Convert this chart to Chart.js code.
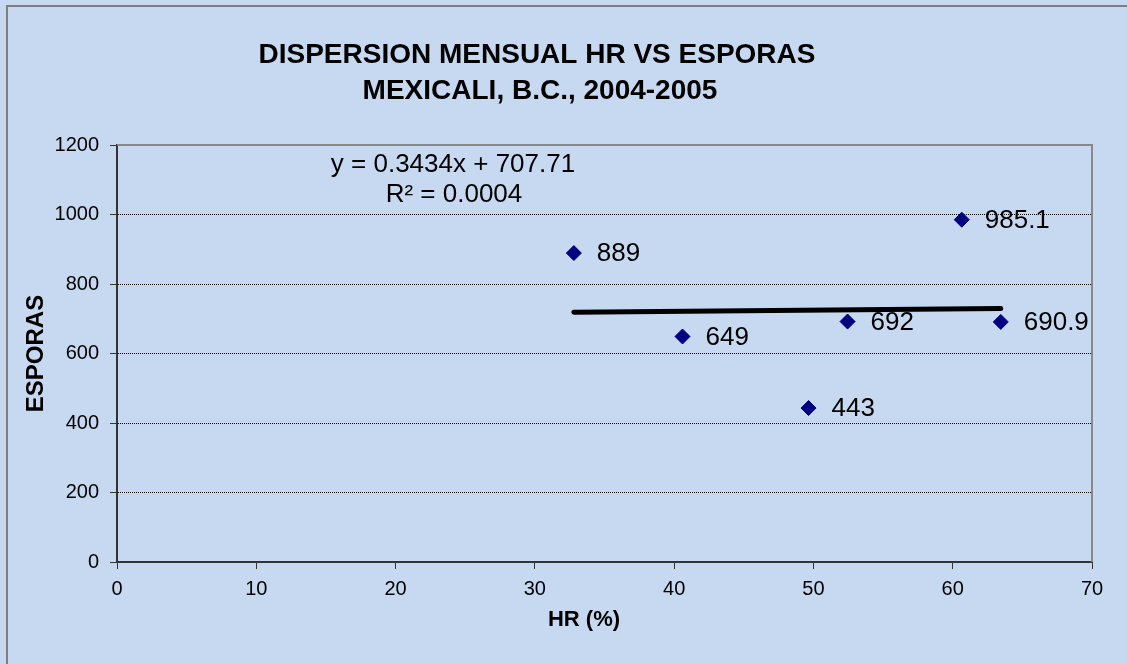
<!DOCTYPE html>
<html>
<head>
<meta charset="utf-8">
<title>Dispersion mensual HR vs Esporas</title>
<script src="https://cdn.jsdelivr.net/npm/chart.js@4"></script>
<style>
  html, body { margin: 0; padding: 0; background: #c6d9f1; }
  #chartBox { width: 1127px; height: 664px; }
</style>
</head>
<body>
<div id="chartBox"><canvas id="hrChart" width="1127" height="664"></canvas></div>
<script>
// monthly points: HR (%) vs esporas
const hrValues = [32.8, 40.6, 49.65, 52.45, 60.65, 63.45];
const esporasValues = [889, 649, 443, 692, 985.1, 690.9];
const pointLabels = ["889", "649", "443", "692", "985.1", "690.9"];

// linear trendline as drawn by Excel (ends at the data range)
const trendX = [32.8, 63.45];
const trendY = [719.0, 729.5];
const trendText = ["y = 0.3434x + 707.71", "R\u00b2 = 0.0004"];

const titleLines = ["DISPERSION MENSUAL HR VS ESPORAS", "MEXICALI, B.C., 2004-2005"];
const xTitle = "HR (%)";
const yTitle = "ESPORAS";

const bgColor = "#c6d9f1";
const fontFamily = 'Arial, "Liberation Sans", sans-serif';

Chart.defaults.font.family = fontFamily;
Chart.defaults.color = "#000";

// background, outer frame and plot border
const framePlugin = {
  id: "frame",
  beforeDraw(chart) {
    const ctx = chart.ctx;
    ctx.save();
    ctx.fillStyle = bgColor;
    ctx.fillRect(0, 0, chart.width, chart.height);
    ctx.strokeStyle = "#7f7f7f";
    ctx.lineWidth = 2;
    ctx.beginPath();
    ctx.moveTo(7, chart.height);
    ctx.lineTo(7, 6);
    ctx.lineTo(chart.width, 6);
    ctx.stroke();
    ctx.restore();
  },
  beforeDatasetsDraw(chart) {
    const { ctx, chartArea } = chart;
    ctx.save();
    ctx.strokeStyle = "#888";
    ctx.lineWidth = 2;
    ctx.beginPath();
    ctx.moveTo(chartArea.left, chartArea.top);
    ctx.lineTo(chartArea.right, chartArea.top);
    ctx.lineTo(chartArea.right, chartArea.bottom);
    ctx.stroke();
    ctx.restore();
  }
};

// title, equation, x title and point labels
const textPlugin = {
  id: "texts",
  afterDatasetsDraw(chart) {
    const ctx = chart.ctx;
    ctx.save();
    ctx.fillStyle = "#000";
    ctx.textBaseline = "middle";

    ctx.textAlign = "center";
    ctx.font = "bold 28px " + fontFamily;
    ctx.fillText(titleLines[0], 537, 55);
    ctx.fillText(titleLines[1], 540, 91);

    ctx.font = "26px " + fontFamily;
    ctx.fillText(trendText[0], 453, 165);
    ctx.fillText(trendText[1], 454, 195);

    ctx.font = "bold 22px " + fontFamily;
    ctx.fillText(xTitle, 584, 620);

    ctx.textAlign = "left";
    ctx.font = "26px " + fontFamily;
    const meta = chart.getDatasetMeta(0);
    meta.data.forEach((pt, i) => {
      ctx.fillText(pointLabels[i], pt.x + 23, pt.y + 1);
    });
    ctx.restore();
  }
};

const ctx = document.getElementById("hrChart").getContext("2d");

new Chart(ctx, {
  type: "scatter",
  data: {
    datasets: [
      {
        label: "Esporas",
        data: hrValues.map((x, i) => ({ x: x, y: esporasValues[i] })),
        pointStyle: "rectRot",
        pointRadius: 7.5,
        pointHoverRadius: 7.5,
        backgroundColor: "#000080",
        borderColor: "#000080",
        borderWidth: 1,
        order: 1
      },
      {
        label: "Lineal",
        type: "line",
        data: trendX.map((x, i) => ({ x: x, y: trendY[i] })),
        borderColor: "#000",
        borderWidth: 5,
        borderCapStyle: "round",
        pointRadius: 0,
        fill: false,
        order: 2
      }
    ]
  },
  options: {
    responsive: false,
    animation: false,
    devicePixelRatio: 1,
    layout: { padding: { top: 145, left: 0, right: 35, bottom: 0 } },
    plugins: {
      legend: { display: false },
      tooltip: { enabled: false },
      title: { display: false }
    },
    scales: {
      x: {
        type: "linear",
        min: 0,
        max: 70,
        ticks: { stepSize: 10, font: { size: 20 }, color: "#000", padding: 8, callback: v => String(v) },
        grid: { drawOnChartArea: false, drawTicks: true, tickLength: 7, tickColor: "#333", tickWidth: 1 },
        border: { color: "#333", width: 2 },
        afterFit: scale => { scale.height = 102; }
      },
      y: {
        min: 0,
        max: 1200,
        ticks: { stepSize: 200, font: { size: 20 }, color: "#000", padding: 11, callback: v => String(v) },
        grid: { color: "#000", lineWidth: 1, tickLength: 7, tickColor: "#333", tickWidth: 1, tickBorderDash: [] },
        border: { color: "#333", width: 2, dash: [1, 1] },
        title: { display: true, text: yTitle, font: { size: 24, weight: "bold" }, color: "#000", padding: { top: 22 } },
        afterFit: scale => { scale.width = 117; }
      }
    }
  },
  plugins: [framePlugin, textPlugin]
});
</script>
</body>
</html>
